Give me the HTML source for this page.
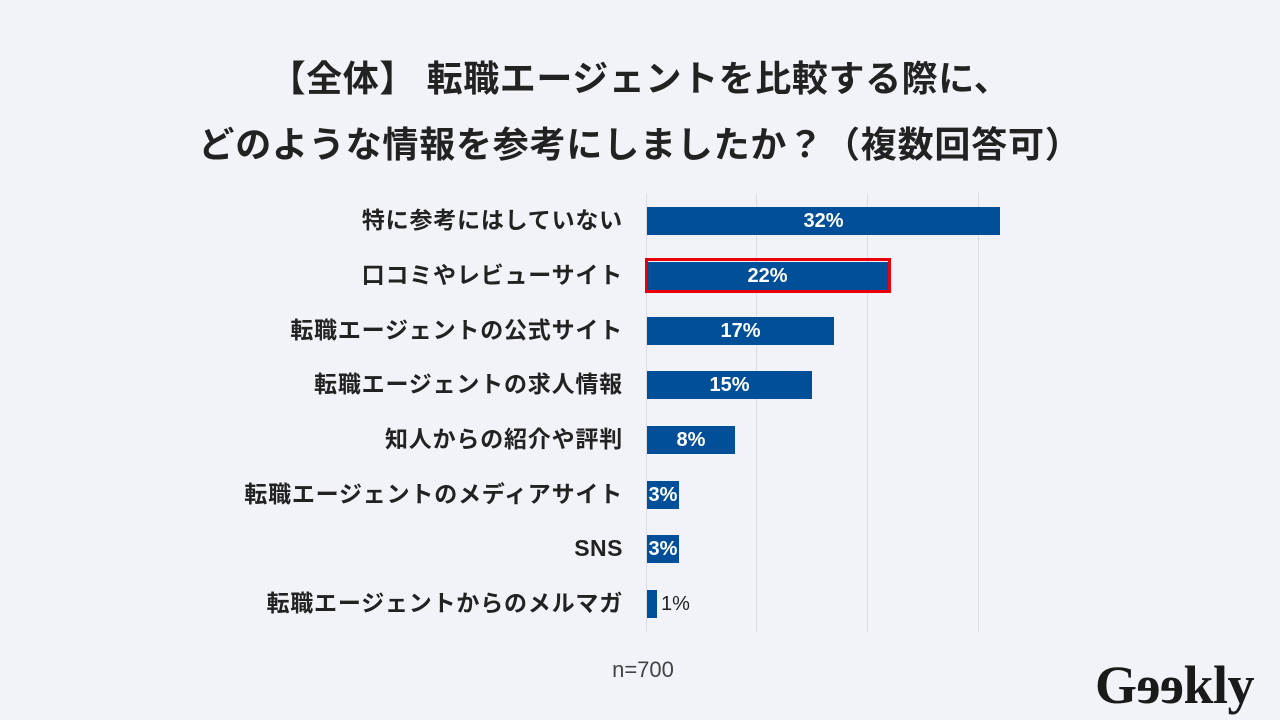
<!DOCTYPE html>
<html><head><meta charset="utf-8"><style>
body{margin:0;width:1280px;height:720px;background:#f2f3f8;position:relative;overflow:hidden;font-family:"Liberation Sans","Noto Sans CJK JP",sans-serif;}
.t{position:absolute;left:0;width:1280px;text-align:center;font-weight:bold;font-size:36px;color:#222;}
.g{position:absolute;top:193px;height:439px;width:1px;background:#dcdde2;}
.b{position:absolute;left:647px;height:28px;background:#014f98;color:#fff;font-weight:bold;font-size:20px;line-height:28px;text-align:center;}
.l{position:absolute;right:657px;font-weight:bold;font-size:23px;color:#222;line-height:28px;white-space:nowrap;letter-spacing:0.8px;}
</style></head><body>
<div class="t" style="top:50px;letter-spacing:0.6px">【全体】 転職エージェントを比較する際に、</div>
<div class="t" style="top:116px;letter-spacing:0.8px">どのような情報を参考にしましたか？（複数回答可）</div>
<div class="g" style="left:646px"></div><div class="g" style="left:756px"></div><div class="g" style="left:867px"></div><div class="g" style="left:978px"></div>

<div class="l" style="top:206px">特に参考にはしていない</div>
<div class="b" style="top:207px;width:353px">32%</div>
<div class="l" style="top:261px">口コミやレビューサイト</div>
<div style="position:absolute;left:645px;top:258px;width:240px;height:29px;border:3.5px solid #e8000b;"></div>
<div class="b" style="top:262px;width:241px">22%</div>
<div class="l" style="top:316px">転職エージェントの公式サイト</div>
<div class="b" style="top:317px;width:187px">17%</div>
<div class="l" style="top:370px">転職エージェントの求人情報</div>
<div class="b" style="top:371px;width:165px">15%</div>
<div class="l" style="top:425px">知人からの紹介や評判</div>
<div class="b" style="top:426px;width:88px">8%</div>
<div class="l" style="top:480px">転職エージェントのメディアサイト</div>
<div class="b" style="top:481px;width:32px">3%</div>
<div class="l" style="top:534px;letter-spacing:0.5px">SNS</div>
<div class="b" style="top:535px;width:32px">3%</div>
<div class="l" style="top:589px">転職エージェントからのメルマガ</div>
<div class="b" style="top:590px;width:10px"></div>
<div style="position:absolute;left:661px;top:590px;line-height:28px;font-size:20px;color:#222">1%</div>

<div style="position:absolute;left:0;width:1286px;text-align:center;top:657px;font-size:22px;color:#444">n=700</div>
<div style="position:absolute;left:1095px;top:652px;font-family:'Liberation Serif',serif;font-weight:bold;font-size:54px;color:#1a1a1a;letter-spacing:-0.5px;line-height:66px">G<span style="display:inline-block;transform:scaleX(-1)">ee</span>kly</div>
</body></html>
